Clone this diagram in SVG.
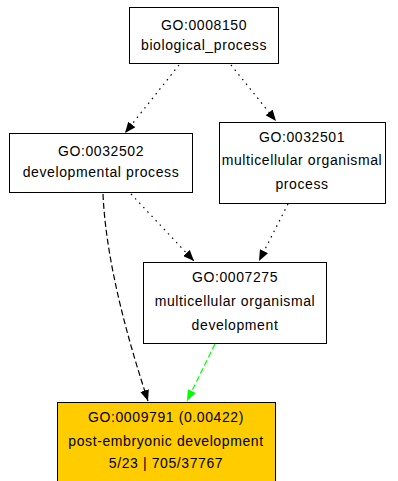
<svg xmlns="http://www.w3.org/2000/svg" width="398" height="481" viewBox="0 0 398 481">
<style>
.box{fill:#fff;stroke:#000;stroke-width:1}
.hit{fill:#FFCC00;stroke:#000;stroke-width:1}
text{font-family:"Liberation Sans",Arial,sans-serif;font-size:14px;letter-spacing:0.6px;fill:#000;text-anchor:middle}
.dot{fill:none;stroke:#000;stroke-width:1.2;stroke-dasharray:1.5,4.5}
.dash{fill:none;stroke:#000;stroke-width:1.2;stroke-dasharray:6,3}
.gdash{fill:none;stroke:#00FF00;stroke-width:1.2;stroke-dasharray:6,3}
</style>
<defs>
<marker id="ab" markerUnits="userSpaceOnUse" markerWidth="11" markerHeight="9" refX="11" refY="4.5" orient="auto"><path d="M0,0 L11,4.5 L0,9 z" fill="#000"/></marker>
<marker id="ag" markerUnits="userSpaceOnUse" markerWidth="11" markerHeight="9" refX="11" refY="4.5" orient="auto"><path d="M0,0 L11,4.5 L0,9 z" fill="#00FF00"/></marker>
</defs>
<rect width="398" height="481" fill="#fff"/>
<g id="edges">
<path class="dot" d="M179,65 L125,133" marker-end="url(#ab)"/>
<path class="dot" d="M231,65 L276,121" marker-end="url(#ab)"/>
<path class="dot" d="M131,194 L194,261" marker-end="url(#ab)"/>
<path class="dot" d="M288,204 L259,261" marker-end="url(#ab)"/>
<path class="dash" d="M103,194 C106,262 128,340 148,401" marker-end="url(#ab)"/>
<path class="gdash" d="M215,344 L187,401" marker-end="url(#ag)"/>
</g>
<g id="n0008150">
<rect class="box" x="129.5" y="7.5" width="149" height="56"/>
<text x="204" y="30">GO:0008150</text>
<text x="204" y="50">biological_process</text>
</g>
<g id="n0032502">
<rect class="box" x="9.5" y="133.5" width="183" height="59"/>
<text x="101" y="156">GO:0032502</text>
<text x="101" y="177">developmental process</text>
</g>
<g id="n0032501">
<rect class="box" x="219.5" y="122.5" width="166" height="81"/>
<text x="302" y="142">GO:0032501</text>
<text x="302" y="165">multicellular organismal</text>
<text x="302" y="189">process</text>
</g>
<g id="n0007275">
<rect class="box" x="143.5" y="262.5" width="183" height="81"/>
<text x="235" y="282">GO:0007275</text>
<text x="235" y="306">multicellular organismal</text>
<text x="235" y="330">development</text>
</g>
<g id="n0009791">
<rect class="hit" x="57.5" y="402.5" width="218" height="80"/>
<text x="166" y="422">GO:0009791 (0.00422)</text>
<text x="166" y="446">post-embryonic development</text>
<text x="166" y="468">5/23 | 705/37767</text>
</g>
</svg>
